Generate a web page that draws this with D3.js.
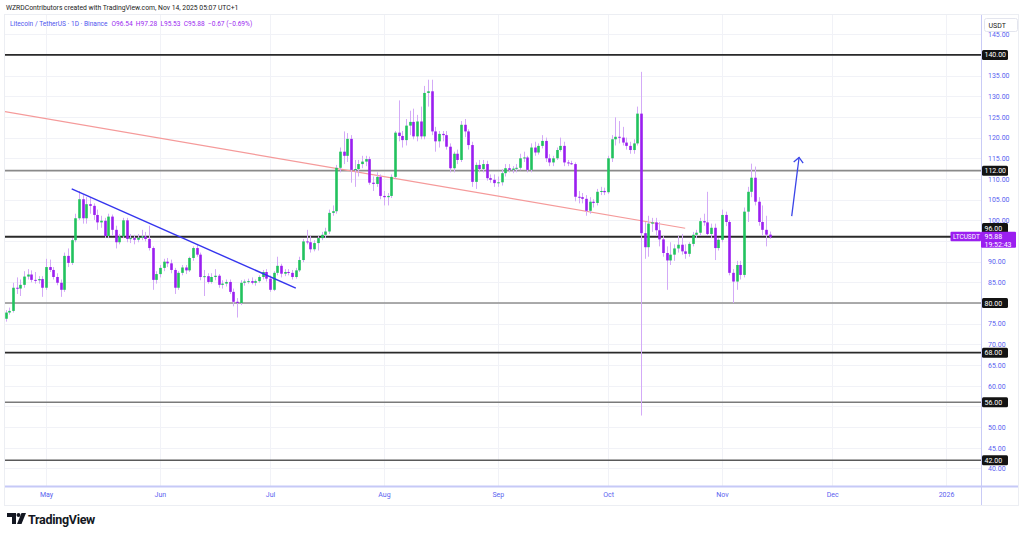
<!DOCTYPE html>
<html><head><meta charset="utf-8">
<script src="https://cdn.jsdelivr.net/npm/d3@7"></script>
<style>
html,body{margin:0;padding:0;background:#fff;}
svg{display:block;font-family:Roboto,"Noto Sans",sans-serif;}
</style></head><body>
<svg id="chart" width="1024" height="535"></svg>
<script>
// ---------- DATA ----------
const startDate = "2025-04-20"; // first daily candle, one candle per day to Nov 14, 2025
const opens = [76.2,77.7,78.1,83.7,83.5,84.4,86.4,86.9,85.6,85.5,85.8,83.7,88.7,88.0,86.3,84.9,83.2,91.4,89.7,95.2,
100.5,105.1,100.5,103.9,103.5,101.3,99.5,99.9,96.2,100.9,97.7,94.7,96.1,100.0,95.5,95.7,95.3,95.8,96.1,95.5,
93.3,85.6,87.0,88.5,90.0,89.6,88.0,83.7,87.3,88.6,87.9,90.9,93.3,91.7,86.3,86.5,85.1,86.3,86.6,84.4,
84.7,85.1,82.7,80.3,80.0,84.9,85.2,85.3,84.9,85.3,86.3,87.5,85.9,83.2,87.3,89.0,87.1,87.5,87.3,86.3,
87.9,90.4,94.9,94.7,93.0,94.5,95.7,96.5,97.3,101.8,102.2,112.7,116.6,115.6,119.7,112.2,112.4,113.6,114.2,114.8,
109.1,108.8,110.5,105.9,105.6,105.9,110.5,121.2,120.4,119.4,122.9,123.8,120.3,123.9,120.3,130.8,131.2,121.5,119.1,120.9,
120.6,117.8,112.6,116.1,114.6,123.1,121.5,118.2,109.3,113.4,112.4,113.6,110.2,109.8,109.0,109.2,111.4,112.6,112.2,112.5,
112.7,115.0,115.2,112.2,117.6,116.4,118.0,119.2,115.0,114.0,115.0,117.0,118.0,114.0,113.8,113.6,105.7,105.6,105.2,102.3,
104.5,104.2,106.9,107.1,106.8,115.0,119.6,120.2,120.0,118.8,118.0,117.0,118.6,125.8,96.9,93.5,99.2,99.5,97.6,95.4,
92.1,90.3,91.7,93.2,94.1,92.5,91.9,94.3,96.5,97.0,99.8,99.5,96.7,98.2,93.3,95.3,101.3,99.6,87.3,85.2,
89.2,86.8,102.1,106.9,110.3,104.5,99.6,97.7,96.54];
const highs = [78.3,78.9,84.9,86.2,85.7,87.7,88.2,87.9,87.5,86.5,86.5,90.7,90.5,88.7,87.2,85.7,92.2,93.2,95.7,101.6,
107.1,106.1,105.6,105.6,104.1,102.6,101.1,100.6,101.6,101.4,98.7,96.7,100.6,100.6,96.7,96.5,96.7,97.7,97.2,98.7,
93.7,87.7,89.2,90.7,90.9,90.5,88.5,87.7,89.2,89.2,91.2,93.7,94.2,92.2,88.0,87.2,87.2,88.2,87.0,85.5,
85.7,85.7,83.5,81.2,85.5,85.7,85.9,86.2,85.7,86.7,88.0,88.2,86.7,87.7,91.2,89.5,88.2,88.2,88.0,88.5,
91.2,95.5,97.7,96.2,95.2,96.2,97.2,98.2,102.6,103.6,113.4,117.6,121.5,121.1,120.6,114.6,114.6,115.6,115.6,115.4,
110.6,111.6,111.1,107.1,106.6,111.1,121.6,129.0,121.6,124.5,126.5,127.0,125.5,127.5,132.5,134.0,134.0,122.6,121.6,121.6,
121.6,118.6,116.6,117.1,124.0,124.5,122.0,119.0,114.0,114.6,114.6,114.4,111.1,111.1,110.6,112.4,113.6,113.6,113.1,113.6,
116.1,116.6,115.6,118.6,119.0,118.6,120.6,120.0,116.0,115.6,117.6,120.0,119.0,114.6,114.4,114.0,107.1,106.6,106.1,105.6,
105.1,107.6,108.1,107.9,115.6,120.6,124.9,124.0,122.6,120.0,119.0,119.6,127.5,135.9,99.6,101.1,100.6,100.6,99.6,96.2,
93.7,94.7,94.2,96.2,96.7,94.2,94.7,97.2,97.7,100.6,101.6,106.9,99.2,99.2,95.7,102.6,102.1,100.1,88.2,90.2,
90.2,103.1,108.1,113.7,113.0,105.6,103.6,101.1,97.28];
const lows = [75.5,77.2,77.7,82.2,81.7,83.7,85.7,85.0,84.7,84.7,81.5,83.2,87.5,85.7,84.3,81.5,82.7,88.7,89.2,94.7,
100.1,99.2,99.2,101.6,100.1,97.7,98.2,95.7,95.7,96.2,93.2,94.2,95.7,94.7,94.5,94.2,94.7,95.2,94.9,92.7,
83.2,84.7,86.2,87.7,88.7,87.2,82.2,83.2,86.7,87.0,87.5,90.2,91.2,85.5,81.7,84.7,84.7,85.5,83.7,83.5,
84.0,82.2,79.2,76.5,79.5,84.2,84.7,84.5,84.2,84.9,85.7,85.2,82.7,82.9,86.7,86.2,86.5,86.7,85.7,85.9,
87.5,89.9,94.2,92.2,92.5,92.7,95.2,95.7,96.7,101.1,101.6,111.6,113.6,114.1,109.1,108.1,110.6,112.6,113.1,108.6,
107.1,108.1,105.1,103.6,103.6,105.4,110.1,119.1,117.6,118.1,120.6,119.6,119.1,119.6,119.6,127.5,120.6,116.6,117.6,119.1,
117.1,111.6,111.6,113.6,114.1,120.1,117.1,108.1,107.6,111.6,111.6,109.6,109.1,108.1,108.1,108.4,110.6,111.6,111.4,111.6,
112.1,114.1,111.6,111.6,115.6,115.9,117.4,114.1,113.1,113.1,114.6,116.6,113.1,113.1,113.4,104.6,104.1,104.1,101.1,101.6,
103.1,103.6,106.1,106.1,106.4,114.1,118.1,118.6,118.1,117.1,116.1,116.1,118.1,52.8,90.7,91.2,97.2,96.2,93.7,91.2,
83.2,89.2,90.2,92.2,91.7,90.7,91.2,93.7,95.7,96.2,98.7,96.2,95.7,90.4,92.7,94.7,98.6,86.7,80.0,83.2,
85.7,86.2,99.6,105.6,103.6,98.7,96.2,93.7,95.53];
const closes = [77.7,78.1,83.7,83.5,84.4,86.4,86.9,85.6,85.5,85.8,83.7,88.7,88.0,86.3,84.9,83.2,91.4,89.7,95.2,100.5,
105.1,100.5,103.9,103.5,101.3,99.5,99.9,96.2,100.9,97.7,94.7,96.1,100.0,95.5,95.7,95.3,95.8,96.1,95.5,93.3,
85.6,87.0,88.5,90.0,89.6,88.0,83.7,87.3,88.6,87.9,90.9,93.3,91.7,86.3,86.5,85.1,86.3,86.6,84.4,84.7,
85.1,82.7,80.3,80.0,84.9,85.2,85.3,84.9,85.3,86.3,87.5,85.9,83.2,87.3,89.0,87.1,87.5,87.3,86.3,87.9,
90.4,94.9,94.7,93.0,94.5,95.7,96.5,97.3,101.8,102.2,112.7,116.6,115.6,119.7,112.2,112.4,113.6,114.2,114.8,109.1,
108.8,110.5,105.9,105.6,105.9,110.5,121.2,120.4,119.4,122.9,123.8,120.3,123.9,120.3,130.8,131.2,121.5,119.1,120.9,120.6,
117.8,112.6,116.1,114.6,123.1,121.5,118.2,109.3,113.4,112.4,113.6,110.2,109.8,109.0,109.2,111.4,112.6,112.2,112.5,112.7,
115.0,115.2,112.2,117.6,116.4,118.0,119.2,115.0,114.0,115.0,117.0,118.0,114.0,113.8,113.6,105.7,105.6,105.2,102.3,104.5,
104.2,106.9,107.1,106.8,115.0,119.6,120.2,120.0,118.8,118.0,117.0,118.6,125.8,96.9,93.5,99.2,99.5,97.6,95.4,92.1,
90.3,91.7,93.2,94.1,92.5,91.9,94.3,96.5,97.0,99.8,99.5,96.7,98.2,93.3,95.3,101.3,99.6,87.3,85.2,89.2,
86.8,102.1,106.9,110.3,104.5,99.6,97.7,96.54,95.88];

const priceTicks = [145,140,135,130,125,120,115,110,105,100,95,90,85,80,75,70,65,60,55,50,45,40];
const monthTicks = ["2025-05-01","2025-06-01","2025-07-01","2025-08-01","2025-09-01","2025-10-01","2025-11-01","2025-12-01","2026-01-01"];
const monthLabels = ["May","Jun","Jul","Aug","Sep","Oct","Nov","Dec","2026"];
const levels = [140,112,96,80,68,56,42];
const redTrend = [["2025-04-19",126.4],["2025-10-22",98.1]];
const blueTrend = [["2025-05-08",107.6],["2025-07-08",83.6]];
const arrowLine = [["2025-11-20",101.0],["2025-11-22",115.2]];
const lastPrice = 95.88;
const headerText = "WZRDContributors created with TradingView.com, Nov 14, 2025 05:07 UTC+1";
const legendTitle = "Litecoin / TetherUS · 1D · Binance";
const legendValues = "O96.54  H97.28  L95.53  C95.88  −0.67 (−0.69%)";

// ---------- STYLE ----------
const UP = "#22c25e", DOWN = "#9b1ff0", WICK = "#d3aaf7";
const AXIS_TXT = "#5a5ff0";
const levelStyle = {140:["#2a2a2a",1.6],112:["#8a8a8a",1.8],96:["#2a2a2a",2],80:["#8f8f8f",1.4],68:["#2a2a2a",1.8],56:["#7a7a7a",1.4],42:["#5a5a5a",1.4]};
const PL = 5, PR = 981, PT = 15, PB = 486;

const svg = d3.select("#chart");
const parse = d3.utcParse("%Y-%m-%d");
const x = d3.scaleUtc().domain([parse("2025-05-01"), parse("2026-01-01")]).range([46, 946]);
const y = d3.scaleLinear().domain([42, 140]).range([460.2, 54.9]);

// positions of the price boxes on the axis
const boxCenter = v => v === 96 ? 228 : y(v);
const boxCenters = levels.map(boxCenter).concat([y(lastPrice)+2.5]);

svg.append("defs").append("clipPath").attr("id","plot")
  .append("rect").attr("x",PL).attr("y",PT).attr("width",PR-PL).attr("height",PB-PT);

// frame
svg.append("rect").attr("x",4.5).attr("y",14.5).attr("width",1014).attr("height",491)
  .attr("fill","none").attr("stroke","#eceef3");

// grid
const grid = svg.append("g").attr("clip-path","url(#plot)");
grid.selectAll("line.h").data(priceTicks).join("line")
  .attr("x1",PL).attr("x2",PR).attr("y1",d=>Math.round(y(d))+0.5).attr("y2",d=>Math.round(y(d))+0.5)
  .attr("stroke","#f1f2f7");
grid.selectAll("line.v").data(monthTicks).join("line")
  .attr("y1",PT).attr("y2",PB).attr("x1",d=>Math.round(x(parse(d)))+0.5).attr("x2",d=>Math.round(x(parse(d)))+0.5)
  .attr("stroke","#f1f2f7");

// levels
const plot = svg.append("g").attr("clip-path","url(#plot)");
plot.selectAll("line.lvl").data(levels).join("line")
  .attr("x1",PL).attr("x2",PR).attr("y1",d=>y(d)).attr("y2",d=>y(d))
  .attr("stroke",d=>levelStyle[d][0]).attr("stroke-width",d=>levelStyle[d][1]);

// red trend
const line = d3.line().x(d=>x(parse(d[0]))).y(d=>y(d[1]));
plot.append("path").attr("d",line(redTrend)).attr("stroke","#f59a9a").attr("stroke-width",1.1).attr("fill","none");

// candles
const t0 = parse(startDate);
const candles = closes.map((c,i)=>({date:d3.utcDay.offset(t0,i),o:opens[i],h:highs[i],l:lows[i],c}));
const cg = plot.append("g");
cg.selectAll("line.w").data(candles).join("line")
  .attr("x1",d=>Math.round(x(d.date))+0.5).attr("x2",d=>Math.round(x(d.date))+0.5)
  .attr("y1",d=>y(d.h)).attr("y2",d=>y(d.l)).attr("stroke",WICK).attr("stroke-width",1);
cg.selectAll("rect.b").data(candles).join("rect")
  .attr("x",d=>Math.round(x(d.date))-0.8).attr("width",2.6)
  .attr("y",d=>y(Math.max(d.o,d.c)))
  .attr("height",d=>Math.max(1,Math.abs(y(d.o)-y(d.c))))
  .attr("fill",d=>d.c>=d.o?UP:DOWN);

// blue trend and arrow
plot.append("path").attr("d",line(blueTrend)).attr("stroke","#3535ee").attr("stroke-width",1.4).attr("fill","none");
plot.append("path").attr("d",line(arrowLine)).attr("stroke","#3a45e8").attr("stroke-width",1.3).attr("fill","none");
{
  const tx = x(parse(arrowLine[1][0])), ty = y(arrowLine[1][1]);
  const bx = x(parse(arrowLine[0][0])), by = y(arrowLine[0][1]);
  const ang = Math.atan2(by-ty, bx-tx), L = 7, s = 0.75;
  const p1 = [tx+L*Math.cos(ang+s), ty+L*Math.sin(ang+s)], p2 = [tx+L*Math.cos(ang-s), ty+L*Math.sin(ang-s)];
  plot.append("path").attr("d",`M${p1}L${tx},${ty}L${p2}`).attr("stroke","#3a45e8").attr("stroke-width",1.3).attr("fill","none");
}

// axes lines
svg.append("line").attr("x1",PR+0.5).attr("x2",PR+0.5).attr("y1",PT).attr("y2",505).attr("stroke","#c9cbf6");
svg.append("line").attr("x1",PL).attr("x2",1018).attr("y1",PB+0.5).attr("y2",PB+0.5).attr("stroke","#c6c9f7").attr("stroke-width",2);

// y axis (labels hidden where a price box covers them, as on the reference)
const visibleTicks = priceTicks.filter(t => boxCenters.every(c => Math.abs(y(t)-c) > 7.5));
const yAxis = d3.axisRight(y).tickValues(visibleTicks).tickFormat(d3.format(".2f")).tickSize(0).tickPadding(7);
const ya = svg.append("g").attr("transform",`translate(${PR},0)`).call(yAxis);
ya.select(".domain").remove();
ya.selectAll("text").attr("fill",AXIS_TXT).style("font-size","7px").style("font-family","Roboto, sans-serif");

// x axis
const xAxis = d3.axisBottom(x).tickValues(monthTicks.map(parse)).tickFormat((d,i)=>monthLabels[i]).tickSize(0).tickPadding(6);
const xa = svg.append("g").attr("transform",`translate(0,${PB})`).call(xAxis);
xa.select(".domain").remove();
xa.selectAll("text").attr("fill",AXIS_TXT).style("font-size","7px").style("font-family","Roboto, sans-serif");

// level price labels
const labG = svg.append("g");
levels.forEach(v=>{
  const cy = boxCenter(v);
  labG.append("rect").attr("x",982).attr("y",cy-5).attr("width",26).attr("height",10).attr("rx",1.5).attr("fill","#131313");
  labG.append("text").attr("x",984.5).attr("y",cy+2.5).attr("fill","#fff").style("font-size","7px").text(d3.format(".2f")(v));
});
// last price labels
{
  const cy = y(lastPrice);
  labG.append("rect").attr("x",950.5).attr("y",cy-5.5).attr("width",30.5).attr("height",9.5).attr("rx",1).attr("fill","#9b1ff0");
  labG.append("text").attr("x",953).attr("y",cy+1.8).attr("fill","#fff").style("font-size","6.5px").text("LTCUSDT");
  labG.append("rect").attr("x",981).attr("y",cy-5.5).attr("width",35).attr("height",16).attr("rx",1).attr("fill","#9b1ff0");
  labG.append("text").attr("x",984.5).attr("y",cy+1.8).attr("fill","#fff").style("font-size","7px").text(d3.format(".2f")(lastPrice));
  labG.append("text").attr("x",984.5).attr("y",cy+9.3).attr("fill","#fff").style("font-size","7px").text("19:52:43");
}
// USDT box
svg.append("rect").attr("x",984.5).attr("y",18.5).attr("width",33).attr("height",13).attr("rx",2).attr("fill","#fff").attr("stroke","#e3e5ee");
svg.append("text").attr("x",988.5).attr("y",27.8).attr("fill","#222").style("font-size","7px").text("USDT");

// header
svg.append("text").attr("x",6).attr("y",10).attr("fill","#222").style("font-size","6.8px").text(headerText);
const lg = svg.append("text").attr("x",10).attr("y",26).style("font-size","6.6px");
lg.append("tspan").attr("fill","#4f55ee").text(legendTitle);
lg.append("tspan").attr("fill","#9b2cf0").attr("dx",4).attr("xml:space","preserve").text(legendValues);

// TradingView logo
const logo = svg.append("g").attr("fill","#131722");
logo.append("path").attr("d","M7,513 H16 V524 H12 V517 H7 Z");
logo.append("circle").attr("cx",18.5).attr("cy",515).attr("r",2);
logo.append("path").attr("d","M21.5,513 H26 L21.5,524 H17 Z");
svg.append("text").attr("x",28).attr("y",524).attr("fill","#131722").style("font-size","12.5px").style("font-weight","700").style("letter-spacing","-0.3px").text("TradingView");
</script>
</body></html>
